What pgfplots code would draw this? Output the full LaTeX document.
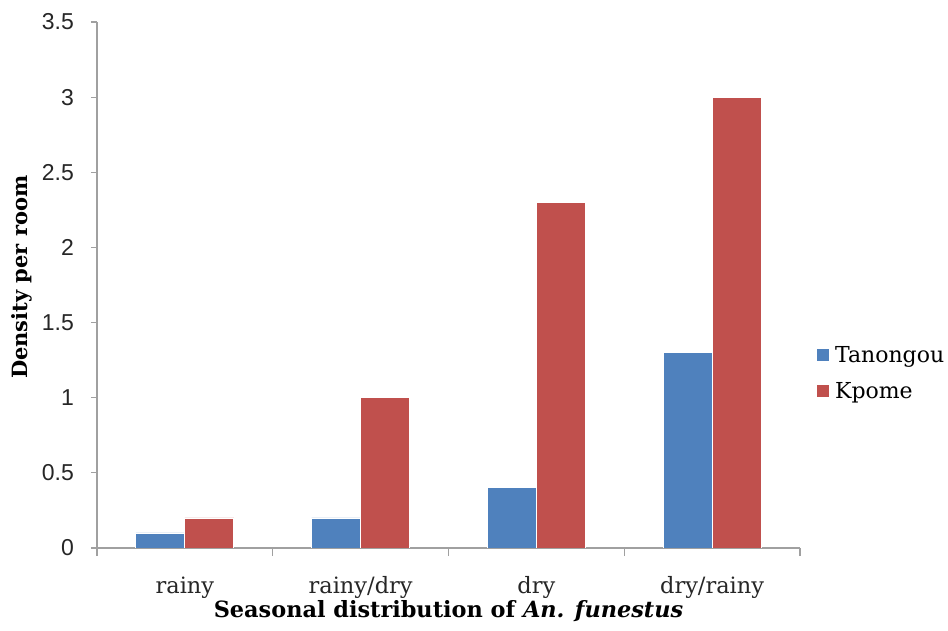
\documentclass[border=0pt]{standalone}
\usepackage{fontspec}
\setmainfont{DejaVu Serif}
\newfontfamily\tickfont{Liberation Sans}
\usepackage{pgfplots}
\pgfplotsset{compat=1.18}
\definecolor{tblue}{HTML}{4F81BD}
\definecolor{kred}{HTML}{C0504D}
\definecolor{axgray}{HTML}{A0A0A0}
\begin{document}
\begin{tikzpicture}
\useasboundingbox (0,0) rectangle (948bp,631bp);
\begin{axis}[
  at={(97bp,83bp)}, anchor=south west,
  scale only axis, width=703bp, height=526bp,
  xmin=-0.5, xmax=3.5, ymin=0, ymax=3.5,
  axis lines=left,
  axis line style={axgray, line width=1.2bp, -},
  tick style={axgray, line width=1.2bp},
  tick align=outside,
  major tick length=6bp,
  minor tick length=8bp,
  xtick={0,1,2,3},
  xticklabels={rainy,rainy/dry,dry,dry/rainy},
  major x tick style={draw=none},
  minor xtick={-0.5,0.5,1.5,2.5,3.5},
  ytick={0,0.5,1,1.5,2,2.5,3,3.5},
  yticklabels={0,0.5,1,1.5,2,2.5,3,3.5},
  yticklabel style={font=\tickfont\fontsize{23bp}{26bp}\selectfont, anchor=east, inner sep=0pt, xshift=-17bp, text=black!85},
  xticklabel style={font=\fontsize{22.5bp}{26bp}\selectfont, anchor=base, inner sep=0pt, yshift=-39bp, text=black!85},
  xlabel={\bfseries Seasonal distribution of \textit{An. funestus}},
  xlabel style={font=\fontsize{22.4bp}{26bp}\selectfont, at={(axis description cs:0.5,0)}, anchor=base, inner sep=0pt, yshift=-69bp},
  ylabel={\bfseries Density per room},
  ylabel style={font=\fontsize{21bp}{25bp}\selectfont, at={(axis description cs:-0.107,0.515)}, anchor=center, inner sep=0pt, rotate=0},
  ybar=0pt, bar width=49bp,
  legend style={draw=none, fill=none, at={(axis description cs:1.024,0.387)}, anchor=north west,
    font=\fontsize{22bp}{26bp}\selectfont, row sep=14bp, column sep=4bp, inner sep=0pt},
  legend cell align=left,
  legend image code/.code={\fill[#1, draw=none] (0bp,-6bp) rectangle (12bp,6bp);},
]
\addplot[fill=tblue, draw=white, line width=0.8bp] coordinates {(0,0.1) (1,0.2) (2,0.4) (3,1.3)};
\addplot[fill=kred, draw=white, line width=0.8bp] coordinates {(0,0.2) (1,1.0) (2,2.3) (3,3.0)};
\legend{Tanongou, Kpome}
\end{axis}
\end{tikzpicture}
\end{document}
